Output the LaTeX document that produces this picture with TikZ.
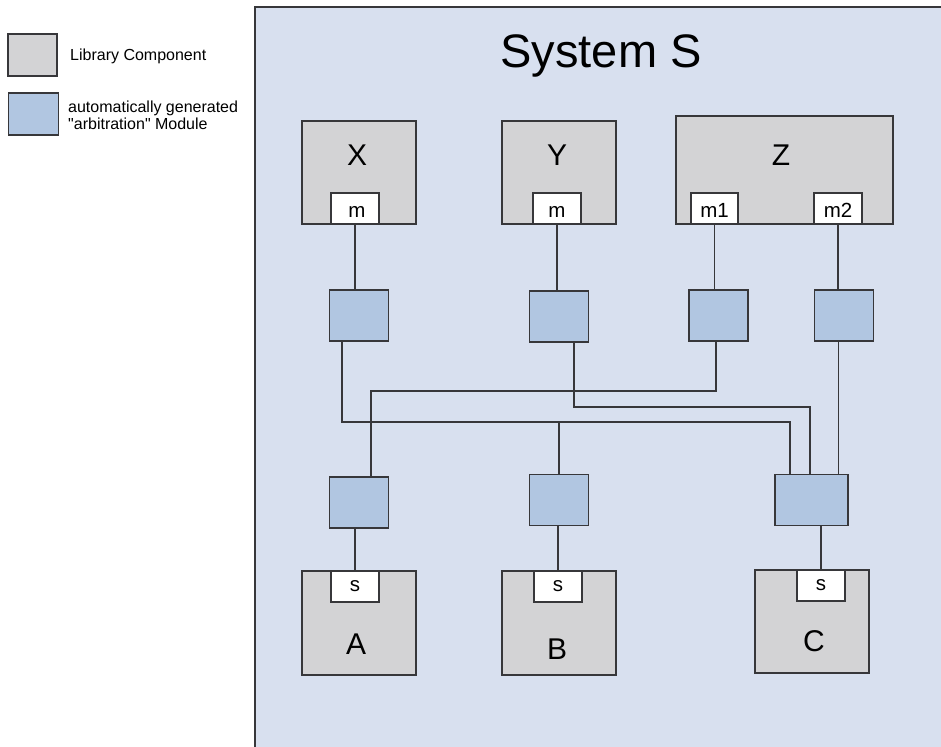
\documentclass[tikz,border=0pt]{standalone}
\usepackage{fontspec}
\setmainfont{Liberation Sans}
\usetikzlibrary{calc}
\definecolor{libgray}{RGB}{211,211,213}
\definecolor{arbblue}{RGB}{177,198,225}
\definecolor{panelbg}{RGB}{216,224,239}
\definecolor{edge}{RGB}{55,55,58}
\newcommand{\fs}[1]{\fontsize{#1}{#1}\selectfont}
\tikzset{
  lib/.style={draw=edge, fill=libgray, line width=1.4pt, inner sep=0pt, outer sep=0pt},
  arb/.style={draw=edge, fill=arbblue, line width=1.4pt, inner sep=0pt, outer sep=0pt,
              minimum width=59pt, minimum height=51pt},
  port/.style={draw=edge, fill=white, line width=1.2pt, inner sep=0pt, outer sep=0pt,
               minimum width=48pt, minimum height=31pt},
  wire/.style={draw=edge, line width=1.3pt},
  lbl/.style={anchor=base, inner sep=0pt, font=\fs{30}},
  plbl/.style={anchor=base, inner sep=0pt, font=\fs{20.5}},
  legtext/.style={anchor=base west, inner sep=0pt, font=\fs{16}},
}
\begin{document}
\begin{tikzpicture}[x=1pt, y=-1pt]
\useasboundingbox (0,0) rectangle (941,746);

% system panel
\fill[panelbg] (255,7) rectangle (950,760);
\draw[edge, line width=2.4pt] (255,760) -- (255,7) -- (950,7);
\node[anchor=base, inner sep=0pt, font=\fs{47}] (title) at (601,68) {System S};

% legend
\node[lib, minimum width=49pt, minimum height=42pt] (legLib) at (32.5,55) {};
\node[legtext] (legLibT) at (70,61) {Library Component};
\node[arb, minimum width=50pt, minimum height=42pt] (legArb) at (33.5,114) {};
\node[legtext] (legArbT) at (68,113) {automatically generated};
\node[legtext] (legArbT2) at (68,130)
  {\textquotedbl arbitration\textquotedbl\ Module};

% master components
\node[lib, minimum width=114pt, minimum height=103pt] (X) at (359,172.5) {};
\node[lib, minimum width=114pt, minimum height=103pt] (Y) at (559,172.5) {};
\node[lib, minimum width=217pt, minimum height=108pt] (Z) at (784.5,170) {};
\node[lbl] (Xt) at (357,165) {X};
\node[lbl] (Yt) at (557,165) {Y};
\node[lbl] (Zt) at (781,165) {Z};

\node[port] (pX) at (355,208.5) {};
\node[port] (pY) at (557,208.5) {};
\node[port, minimum width=47pt] (pZ1) at (714.5,208.5) {};
\node[port] (pZ2) at (838,208.5) {};
\node[plbl] at (357,217) {m};
\node[plbl] at (557,217) {m};
\node[plbl] at (714.5,217) {m1};
\node[plbl] at (838,217) {m2};

% slave components
\node[lib, minimum width=114pt, minimum height=104pt] (A) at (359,623) {};
\node[lib, minimum width=114pt, minimum height=104pt] (B) at (559,623) {};
\node[lib, minimum width=114pt, minimum height=103pt] (C) at (812,621.5) {};
\node[lbl] (At) at (356,654) {A};
\node[lbl] (Bt) at (557,659) {B};
\node[lbl] (Ct) at (814,651) {C};

\node[port] (sA) at (355,586.5) {};
\node[port] (sB) at (558,586.5) {};
\node[port] (sC) at (821,585.5) {};
\node[plbl] at (355,591) {s};
\node[plbl] at (558,591) {s};
\node[plbl] at (821,590) {s};

% arbitration modules, master side
\node[arb] (aX) at (359,315.5) {};
\node[arb] (aY) at (559,316.5) {};
\node[arb] (aZ1) at (718.5,315.5) {};
\node[arb] (aZ2) at (844,315.5) {};

% arbitration modules, slave side
\node[arb] (aA) at (359,502.5) {};
\node[arb] (aB) at (559,500) {};
\node[arb, minimum width=73pt] (aC) at (811.5,500) {};

% port to module links
\draw[wire] (pX.south) -- (pX.south |- aX.north);
\draw[wire] (pY.south) -- (pY.south |- aY.north);
\draw[wire] (pZ1.south) -- (pZ1.south |- aZ1.north);
\draw[wire] (pZ2.south) -- (pZ2.south |- aZ2.north);
\draw[wire] (sA.north |- aA.south) -- (sA.north);
\draw[wire] (sB.north |- aB.south) -- (sB.north);
\draw[wire] (sC.north |- aC.south) -- (sC.north);

% routing between master and slave modules
\coordinate (hX) at (0,422);
\coordinate (hY) at (0,407);
\coordinate (hZ) at (0,391);
\coordinate (xo) at ([xshift=-17pt]aX.south);
\coordinate (yo) at ([xshift=15pt]aY.south);
\coordinate (zo) at ([xshift=-2.5pt]aZ1.south);
\coordinate (ai) at ([xshift=12pt]aA.north);
\coordinate (cx) at ([xshift=-21.5pt]aC.north);
\coordinate (cy) at ([xshift=-1.5pt]aC.north);
\coordinate (cz) at ([xshift=27pt]aC.north);

\draw[wire] (xo) -- (xo |- hX) -| (cx);
\draw[wire] (aB.north) -- (aB.north |- hX);
\draw[wire] (yo) -- (yo |- hY) -| (cy);
\draw[wire] (zo) -- (zo |- hZ) -| (ai);
\draw[wire] (aZ2.south -| cz) -- (cz);
\end{tikzpicture}
\end{document}
